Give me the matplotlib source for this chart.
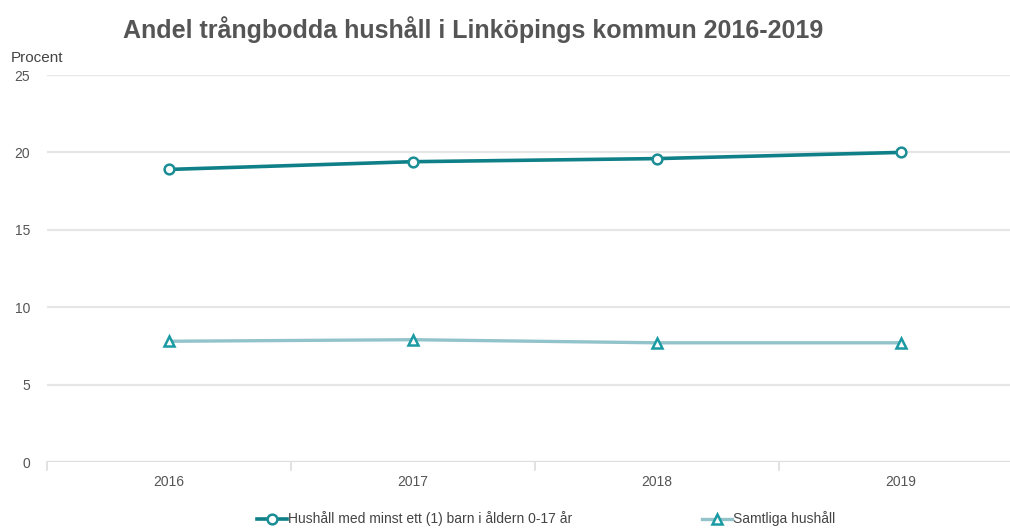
import matplotlib
matplotlib.use("Agg")
import matplotlib.pyplot as plt
import numpy as np

years = ["2016", "2017", "2018", "2019"]
barn = [18.9, 19.4, 19.6, 20.0]
samtliga = [7.8, 7.9, 7.7, 7.7]
yticks = [0, 5, 10, 15, 20, 25]
title = "Andel trångbodda hushåll i Linköpings kommun 2016-2019"
series_names = ["Hushåll med minst ett (1) barn i åldern 0-17 år", "Samtliga hushåll"]

plt.rcParams['font.family'] = ['Liberation Sans', 'DejaVu Sans']
W, H = 1010, 532
fig = plt.figure(figsize=(W/100, H/100), dpi=100)
ax = fig.add_axes([47/W, (H-462)/H, (1023-47)/W, (462-75)/H])

x = np.arange(len(years))
l1, = ax.plot(x, barn, color="#0f8088", lw=2.6, marker="o", ms=7, mfc="white",
              mec="#1b8d95", mew=1.8, zorder=4)
l2, = ax.plot(x, samtliga, color="#92c3ca", lw=2.4, marker="^", ms=7, mfc="white",
              mec="#1a9aa2", mew=1.8, zorder=4)

ax.set_xlim(-0.5, 3.5)
ax.set_ylim(0, 25)
ax.set_yticks(yticks)
ax.set_yticklabels([str(v) for v in yticks], color="#555555", fontsize=10)
ax.set_xticks(x)
ax.set_xticklabels(years, color="#555555", fontsize=10)
ax.tick_params(axis='both', length=0)
ax.tick_params(axis='x', pad=9)
ax.tick_params(axis='y', pad=12)
for y in yticks[1:]:
    ax.axhline(y, color="#e6e6e6", lw=1.6, zorder=1)
ax.axhline(0, color="#dddddd", lw=1.6, zorder=1)
for b in np.arange(-0.5, 3.6, 1):
    ax.plot([b, b], [0, -0.5], color="#dddddd", lw=1.2, clip_on=False)
for s in ax.spines.values():
    s.set_visible(False)

fig.text(473/W, 1-30/H, title, ha="center", va="center", fontsize=18,
         fontweight="bold", color="#555555")
fig.text(11/W, 1-58/H, "Procent", ha="left", va="center", fontsize=11, color="#444444")

leg1 = fig.legend(handles=[l1], labels=[series_names[0]], loc="center left",
                  bbox_to_anchor=(244/W, 1-519/H), frameon=False,
                  fontsize=10, handlelength=2.2, handletextpad=0.1)
leg2 = fig.legend(handles=[l2], labels=[series_names[1]], loc="center left",
                  bbox_to_anchor=(689/W, 1-519/H), frameon=False,
                  fontsize=10, handlelength=2.2, handletextpad=0.1)
for leg in (leg1, leg2):
    for t in leg.get_texts():
        t.set_color("#444444")

fig.savefig("out.png", dpi=100)
